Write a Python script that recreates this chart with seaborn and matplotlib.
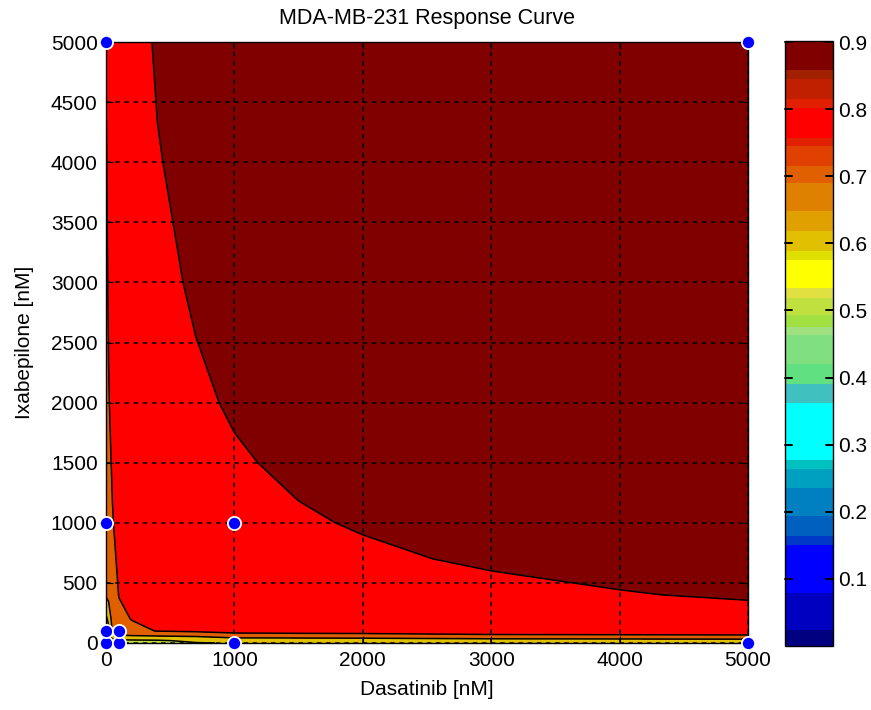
import numpy as np
import pandas as pd
import matplotlib
matplotlib.use("Agg")
import matplotlib.pyplot as plt
import seaborn as sns
from matplotlib.colors import ListedColormap, BoundaryNorm
from matplotlib.cm import ScalarMappable
from matplotlib.lines import Line2D
from matplotlib.transforms import blended_transform_factory

# Dose grid of the fitted response surface (nM)
dasatinib_nm = [0, 20, 50, 100, 200, 400, 700, 1000, 1500, 2000, 3000, 4000, 5000]
ixabepilone_nm = [0, 20, 50, 100, 200, 400, 700, 1000, 1500, 2000, 3000, 4000, 5000]

# Fitted response, one row per Ixabepilone dose, one column per Dasatinib dose
response = [
    [0.000, 0.450, 0.500, 0.530, 0.545, 0.550, 0.595, 0.605, 0.610, 0.615, 0.620, 0.625, 0.630],
    [0.450, 0.500, 0.570, 0.580, 0.585, 0.590, 0.620, 0.640, 0.645, 0.650, 0.650, 0.655, 0.660],
    [0.500, 0.550, 0.640, 0.670, 0.675, 0.680, 0.690, 0.720, 0.722, 0.725, 0.750, 0.755, 0.760],
    [0.530, 0.580, 0.710, 0.766, 0.784, 0.802, 0.816, 0.840, 0.850, 0.855, 0.870, 0.875, 0.880],
    [0.580, 0.620, 0.745, 0.784, 0.802, 0.820, 0.834, 0.844, 0.854, 0.862, 0.872, 0.880, 0.886],
    [0.710, 0.730, 0.760, 0.802, 0.820, 0.838, 0.852, 0.862, 0.872, 0.880, 0.890, 0.898, 0.904],
    [0.720, 0.745, 0.780, 0.816, 0.834, 0.852, 0.867, 0.876, 0.887, 0.894, 0.905, 0.912, 0.918],
    [0.735, 0.760, 0.795, 0.826, 0.844, 0.862, 0.876, 0.885, 0.896, 0.903, 0.914, 0.922, 0.927],
    [0.750, 0.780, 0.810, 0.836, 0.854, 0.872, 0.887, 0.896, 0.907, 0.914, 0.925, 0.932, 0.938],
    [0.760, 0.795, 0.820, 0.844, 0.862, 0.880, 0.894, 0.904, 0.914, 0.922, 0.932, 0.940, 0.945],
    [0.780, 0.810, 0.835, 0.854, 0.872, 0.890, 0.905, 0.914, 0.925, 0.932, 0.943, 0.950, 0.956],
    [0.792, 0.820, 0.845, 0.862, 0.880, 0.898, 0.912, 0.922, 0.932, 0.940, 0.950, 0.958, 0.963],
    [0.805, 0.830, 0.850, 0.867, 0.885, 0.904, 0.918, 0.927, 0.938, 0.945, 0.956, 0.963, 0.969],
]

# Measured dose combinations
measured_dasatinib = [0, 100, 0, 100, 0, 1000, 1000, 0, 5000, 5000]
measured_ixabepilone = [0, 0, 100, 100, 1000, 1000, 0, 5000, 5000, 0]

# Contour levels of the filled surface
contour_levels = [0.0, 0.1, 0.2, 0.3, 0.4, 0.5, 0.6, 0.7, 0.8, 0.9]

# Banded colour scale shown in the colour bar
scale_bounds = [0.0, 0.024, 0.079, 0.150, 0.164, 0.193, 0.235, 0.264, 0.277, 0.362,
                0.390, 0.420, 0.463, 0.475, 0.493, 0.518, 0.534, 0.575, 0.589, 0.619,
                0.648, 0.690, 0.715, 0.745, 0.757, 0.801, 0.815, 0.845, 0.858, 0.9015]
scale_colors = ["#000080", "#0000c0", "#0000ff", "#0038c8", "#0060c0", "#0080c0",
                "#00a0c0", "#00c0c0", "#00ffff", "#40c0c0", "#60e080", "#80e080",
                "#a0e080", "#a0e040", "#c0e040", "#e0e040", "#ffff00", "#e0e000",
                "#e0c000", "#e0a000", "#e08000", "#e06000", "#e04000", "#e02000",
                "#ff0000", "#e02000", "#c02000", "#a02000", "#800000"]
colorbar_ticks = [0.1, 0.2, 0.3, 0.4, 0.5, 0.6, 0.7, 0.8, 0.9]

sns.set_theme(style="white")
plt.rcParams["font.family"] = ["Liberation Sans", "DejaVu Sans"]

W, H = 871, 710
fig = plt.figure(figsize=(W / 100, H / 100), dpi=100)
ax = fig.add_axes([106 / W, (H - 643) / H, 642 / W, 601 / H])

cmap = ListedColormap(scale_colors)
norm = BoundaryNorm(scale_bounds, cmap.N)

Z = np.array(response)
Xg, Yg = np.meshgrid(dasatinib_nm, ixabepilone_nm)

# each band takes the scale colour of its lower level
fill_levels = contour_levels + [max(Z.max(), 1.0)]
fill_colors = [cmap(int(norm(lv))) for lv in contour_levels]
ax.contourf(Xg, Yg, Z, levels=fill_levels, colors=fill_colors, zorder=1)
ax.contour(Xg, Yg, Z, levels=contour_levels[1:], colors="black", linewidths=1.1, zorder=2)

points = pd.DataFrame({"Dasatinib": measured_dasatinib, "Ixabepilone": measured_ixabepilone})
sns.scatterplot(data=points, x="Dasatinib", y="Ixabepilone", ax=ax, s=90,
                color="#0000ff", edgecolor="white", linewidth=1.3, zorder=6,
                clip_on=False, legend=False)

ax.set_xlim(0, 5000)
ax.set_ylim(0, 5000)
ax.set_xticks(range(0, 5001, 1000))
ax.set_yticks(range(0, 5001, 500))
ax.set_axisbelow(False)
ax.grid(True, color="black", linestyle=(0, (3, 3)), linewidth=1.1)
ax.tick_params(direction="in", length=5, width=0.8, top=True, right=True,
               bottom=True, left=True, labelsize=15, colors="black", pad=6)
for sp in ax.spines.values():
    sp.set_color("black")
    sp.set_linewidth(1.0)
    sp.set_zorder(5)

ax.set_xlabel("Dasatinib [nM]", fontsize=15, labelpad=7, color="black")
ax.set_ylabel("Ixabepilone [nM]", fontsize=15, labelpad=12, color="black")
ax.set_title("MDA-MB-231 Response Curve", fontsize=15.5, pad=13, color="black")

cax = fig.add_axes([785 / W, (H - 646) / H, 48 / W, 605 / H])
sm = ScalarMappable(norm=norm, cmap=cmap)
cb = fig.colorbar(sm, cax=cax, spacing="proportional", ticks=colorbar_ticks)
cb.set_ticklabels([f"{t:.1f}" for t in colorbar_ticks])
cb.ax.minorticks_off()
cb.ax.tick_params(which="major", direction="in", length=0, labelsize=15,
                  colors="black", pad=4)
cb.outline.set_edgecolor("black")
cb.outline.set_linewidth(1.0)

# inward tick marks on both edges of the colour bar, drawn above its bands
tick_tf = blended_transform_factory(cb.ax.transAxes, cb.ax.transData)
for t in colorbar_ticks:
    for x0, x1 in ((0.0, 0.15), (0.85, 1.0)):
        fig.add_artist(Line2D([x0, x1], [t, t], transform=tick_tf,
                              color="black", linewidth=1.4, zorder=10))

fig.savefig("out.png", dpi=100)
